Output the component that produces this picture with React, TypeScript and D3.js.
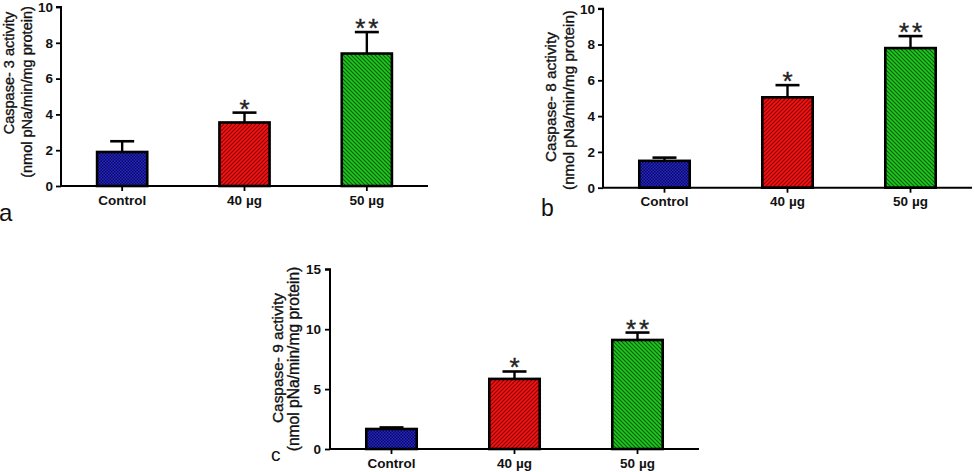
import React, { useEffect, useRef } from "react";
import * as d3 from "d3";

const categories = ["Control", "40 µg", "50 µg"];
const caspase3Means = [1.9, 3.55, 7.4];
const caspase3Errors = [0.6, 0.55, 1.2];
const caspase8Means = [1.5, 5.05, 7.8];
const caspase8Errors = [0.18, 0.68, 0.67];
const caspase9Means = [1.67, 5.85, 9.1];
const caspase9Errors = [0.13, 0.62, 0.62];
const significance = ["", "*", "**"];
const yTicks10 = [0, 2, 4, 6, 8, 10];
const yTicks15 = [0, 5, 10, 15];
const titleLine2 = "(nmol pNa/min/mg protein)";

const FONT = "'Liberation Sans', Arial, Helvetica, sans-serif";
const patternIds = ["patBlue", "patRed", "patGreen"];

const panels = [
  {
    means: caspase3Means, errors: caspase3Errors, max: 10, ticks: yTicks10,
    title1: "Caspase- 3 activity", letter: "a",
    x0: 61, x1: 428, yTop: 7, yBottom: 186,
    t1x: 13.5, t1cy: 73, t1s: 14.5, t2x: 32, t2cy: 92, t2s: 14.5,
    lx: -1, ly: 221, ls: 24, tickPad: 3,
  },
  {
    means: caspase8Means, errors: caspase8Errors, max: 10, ticks: yTicks10,
    title1: "Caspase- 8 activity", letter: "b",
    x0: 603, x1: 972, yTop: 8.7, yBottom: 187.7,
    t1x: 556, t1cy: 97, t1s: 15.4, t2x: 574, t2cy: 100, t2s: 15.2,
    lx: 541, ly: 216, ls: 23, tickPad: 3,
  },
  {
    means: caspase9Means, errors: caspase9Errors, max: 15, ticks: yTicks15,
    title1: "Caspase- 9 activity", letter: "c",
    x0: 330, x1: 699, yTop: 269.3, yBottom: 449,
    t1x: 283, t1cy: 358, t1s: 15.4, t2x: 299, t2cy: 359, t2s: 15.6,
    lx: 271, ly: 461, ls: 19, tickPad: 4,
  },
];

export default function App() {
  const ref = useRef<SVGSVGElement | null>(null);

  useEffect(() => {
    const svg = d3.select(ref.current);
    svg.selectAll("*").remove();

    const defs = svg.append("defs");
    const pb = defs.append("pattern").attr("id", "patBlue").attr("patternUnits", "userSpaceOnUse")
      .attr("width", 3).attr("height", 3);
    pb.append("rect").attr("width", 3).attr("height", 3).attr("fill", "#2626cc");
    pb.append("rect").attr("width", 1.5).attr("height", 1.5).attr("fill", "#0a0a58");
    pb.append("rect").attr("x", 1.5).attr("y", 1.5).attr("width", 1.5).attr("height", 1.5).attr("fill", "#0a0a58");
    const pr = defs.append("pattern").attr("id", "patRed").attr("patternUnits", "userSpaceOnUse")
      .attr("width", 4).attr("height", 4);
    pr.append("rect").attr("width", 4).attr("height", 4).attr("fill", "#f21414");
    pr.append("path").attr("d", "M-1,1 L1,-1 M0,4 L4,0 M3,5 L5,3").attr("stroke", "#8a0000").attr("stroke-width", 1.1);
    const pg = defs.append("pattern").attr("id", "patGreen").attr("patternUnits", "userSpaceOnUse")
      .attr("width", 4).attr("height", 4);
    pg.append("rect").attr("width", 4).attr("height", 4).attr("fill", "#1ec81e");
    pg.append("path").attr("d", "M-1,3 L1,5 M0,0 L4,4 M3,-1 L5,1").attr("stroke", "#0a5a0a").attr("stroke-width", 1.1);

    panels.forEach((p) => {
      const g = svg.append("g");
      const x = d3.scaleBand<string>().domain(categories).range([p.x0, p.x1])
        .paddingInner(0.59).paddingOuter(0.295);
      const y = d3.scaleLinear().domain([0, p.max]).range([p.yBottom, p.yTop]);

      categories.forEach((c, i) => {
        const bx = x(c) as number;
        const bw = x.bandwidth();
        const cx = bx + bw / 2;
        const top = y(p.means[i]);
        const errTop = y(p.means[i] + p.errors[i]);
        g.append("line").attr("x1", cx).attr("x2", cx).attr("y1", top).attr("y2", errTop)
          .attr("stroke", "#000").attr("stroke-width", 2.4);
        g.append("line").attr("x1", cx - 12).attr("x2", cx + 12).attr("y1", errTop).attr("y2", errTop)
          .attr("stroke", "#000").attr("stroke-width", 2.6);
        g.append("rect").attr("x", bx).attr("y", top).attr("width", bw).attr("height", p.yBottom - top)
          .attr("fill", `url(#${patternIds[i]})`).attr("stroke", "#000").attr("stroke-width", 2.6);
        if (significance[i]) {
          g.append("text").attr("x", cx + (significance[i].length > 1 ? 1.5 : 0)).attr("y", errTop + 5)
            .attr("text-anchor", "middle").attr("font-family", FONT).attr("font-size", 26)
            .attr("letter-spacing", significance[i].length > 1 ? 3 : 0)
            .attr("fill", "#222").attr("stroke", "#222").attr("stroke-width", 0.4)
            .text(significance[i]);
        }
      });

      const ya = g.append("g").attr("transform", `translate(${p.x0},0)`)
        .call(d3.axisLeft(y).tickValues(p.ticks).tickSize(5).tickPadding(p.tickPad).tickFormat(d3.format("d")));
      ya.select(".domain").attr("stroke-width", 2).attr("d", `M-5,${p.yTop}H0V${p.yBottom}`);
      ya.selectAll(".tick line").attr("stroke-width", 1.8);
      ya.selectAll(".tick text").attr("font-family", FONT).attr("font-size", 13.5).attr("font-weight", "bold").attr("fill", "#111");

      const xa = g.append("g").attr("transform", `translate(0,${p.yBottom})`)
        .call(d3.axisBottom(x).tickSize(5).tickPadding(6));
      xa.select(".domain").attr("stroke-width", 2).attr("d", `M${p.x0},0H${p.x1}`);
      xa.selectAll(".tick line").attr("stroke-width", 1.8);
      xa.selectAll(".tick text").attr("font-family", FONT).attr("font-size", 13.5).attr("font-weight", "bold")
        .attr("fill", "#111").attr("dy", null).attr("y", 18.5);

      g.append("text").attr("transform", `translate(${p.t1x},${p.t1cy}) rotate(-90)`)
        .attr("text-anchor", "middle").attr("font-family", FONT).attr("font-size", p.t1s).attr("fill", "#111")
        .attr("stroke", "#111").attr("stroke-width", 0.35)
        .text(p.title1);
      g.append("text").attr("transform", `translate(${p.t2x},${p.t2cy}) rotate(-90)`)
        .attr("text-anchor", "middle").attr("font-family", FONT).attr("font-size", p.t2s).attr("fill", "#111")
        .attr("stroke", "#111").attr("stroke-width", 0.35)
        .text(titleLine2);

      g.append("text").attr("x", p.lx).attr("y", p.ly).attr("font-family", FONT).attr("font-size", p.ls)
        .attr("fill", "#111").text(p.letter);
    });
  }, []);

  return (
    <svg ref={ref} width={974} height={472}
      style={{ position: "absolute", left: 0, top: 0, background: "#fff" }} />
  );
}
